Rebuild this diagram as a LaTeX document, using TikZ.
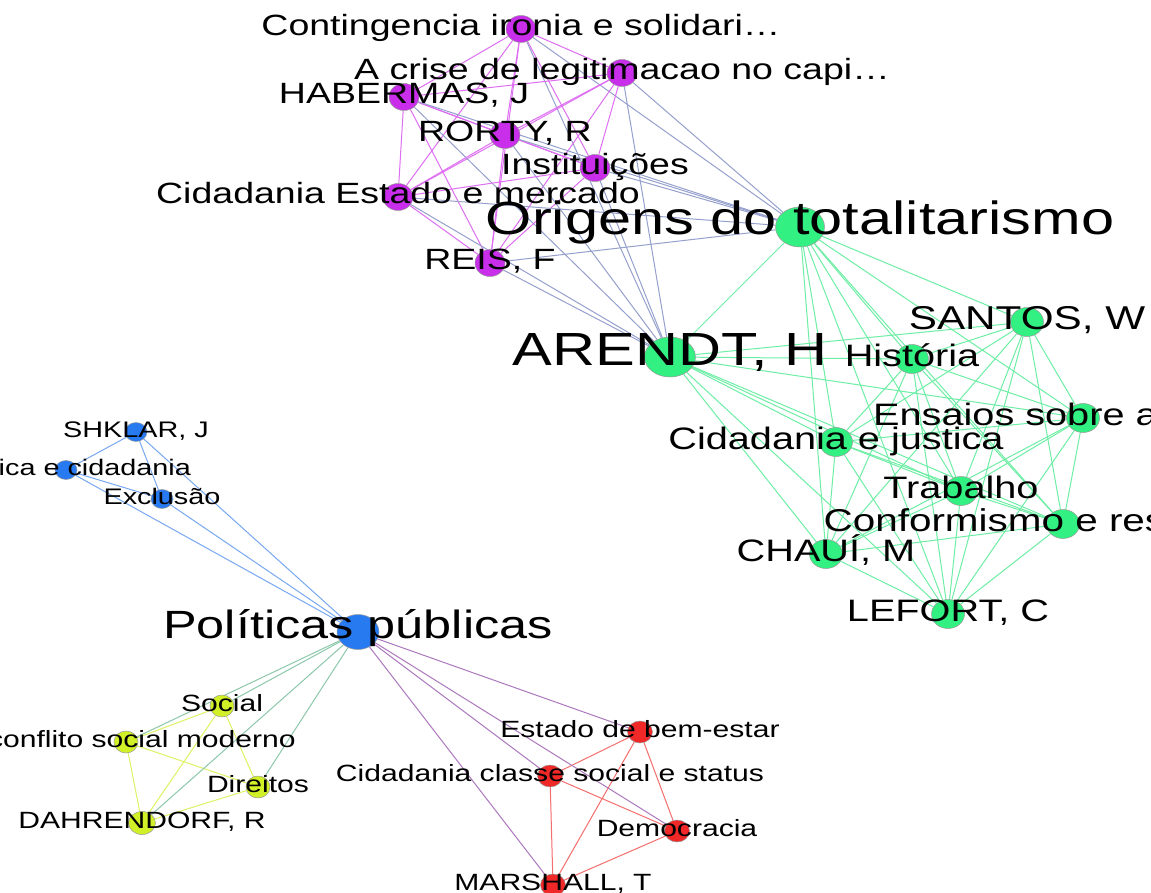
\documentclass[tikz,border=0pt]{standalone}
\usepackage{fontspec}
\setmainfont{Liberation Sans}[FakeStretch=1.28]
\usetikzlibrary{shapes.geometric}
\pgfdeclarelayer{edges}
\pgfdeclarelayer{labels}
\pgfsetlayers{edges,main,labels}
\definecolor{cP}{RGB}{201,46,235}
\definecolor{cG}{RGB}{50,240,130}
\definecolor{cB}{RGB}{40,122,240}
\definecolor{cY}{RGB}{210,240,40}
\definecolor{cR}{RGB}{240,40,40}
\definecolor{ePPc}{RGB}{222,110,242}
\definecolor{ePGc}{RGB}{150,160,205}
\definecolor{eGGc}{RGB}{110,238,165}
\definecolor{eBBc}{RGB}{120,168,242}
\definecolor{eBYc}{RGB}{140,200,170}
\definecolor{eBRc}{RGB}{172,120,190}
\definecolor{eYYc}{RGB}{222,242,100}
\definecolor{eRRc}{RGB}{245,110,110}
\begin{document}
\begin{tikzpicture}[x=1pt,y=-1pt,
  vn/.style={ellipse, inner sep=0pt, draw=black!40, line width=0.5pt},
  pn/.style={vn, fill=cP, minimum width=30pt, minimum height=27pt},
  gn/.style={vn, fill=cG, minimum width=33pt, minimum height=29pt},
  gbig/.style={vn, fill=cG, minimum width=49pt, minimum height=40pt},
  bn/.style={vn, fill=cB, minimum width=22pt, minimum height=19pt},
  bbig/.style={vn, fill=cB, minimum width=42pt, minimum height=35pt},
  yn/.style={vn, fill=cY, minimum width=24pt, minimum height=22pt},
  rn/.style={vn, fill=cR, minimum width=25pt, minimum height=22pt},
  lb/.style={inner sep=0pt, anchor=base, text=black},
  lXL/.style={lb, font=\fontsize{46.5}{50}\selectfont, yshift=-8pt},
  lL/.style={lb, font=\fontsize{39.4}{42}\selectfont, yshift=-6.5pt},
  lMP/.style={lb, font=\fontsize{29.3}{32}\selectfont, yshift=-6.5pt},
  lMG/.style={lb, font=\fontsize{31}{34}\selectfont, yshift=-7pt},
  lS/.style={lb, font=\fontsize{23.5}{26}\selectfont, yshift=-5pt},
  lXS/.style={lb, font=\fontsize{22.5}{24}\selectfont, yshift=-5pt},
  eb/.style={line width=1pt},
  ePP/.style={eb, draw=ePPc},
  ePG/.style={eb, draw=ePGc},
  eGG/.style={eb, draw=eGGc},
  eBB/.style={eb, draw=eBBc},
  eBY/.style={eb, draw=eBYc},
  eBR/.style={eb, draw=eBRc},
  eYY/.style={eb, draw=eYYc},
  eRR/.style={eb, draw=eRRc}]
\useasboundingbox (0,0) rectangle (1151,893);
\clip (0,0) rectangle (1151,893);

% ---- nodes ----
% purple
\node[pn] (con) at (521,29) {};
\node[pn] (acr) at (622,73) {};
\node[pn] (hab) at (404,97) {};
\node[pn] (ror) at (505,135) {};
\node[pn] (ins) at (595,168) {};
\node[pn] (cem) at (398,197) {};
\node[pn] (rei) at (490,263) {};
% green
\node[gbig] (ori) at (800,227) {};
\node[gbig, minimum width=51pt] (are) at (670,357) {};
\node[gn] (san) at (1027,322) {};
\node[gn] (his) at (912,359) {};
\node[gn] (ens) at (1083,418) {};
\node[gn] (cjs) at (836,442) {};
\node[gn] (tra) at (961,491) {};
\node[gn] (cnf) at (1063,524) {};
\node[gn] (cha) at (826,554) {};
\node[gn] (lef) at (948,614) {};
% blue
\node[bn] (shk) at (136,432) {};
\node[bn] (pec) at (66,470) {};
\node[bn] (exc) at (162,499) {};
\node[bbig] (pol) at (358,632) {};
% yellow
\node[yn] (soc) at (222,706) {};
\node[yn] (ocs) at (126,742) {};
\node[yn] (dir) at (258,787) {};
\node[yn, minimum width=27pt, minimum height=23pt] (dah) at (142,823) {};
% red
\node[rn] (ebe) at (640,732) {};
\node[rn] (ccs) at (550,776) {};
\node[rn] (dem) at (677,831) {};
\node[rn] (mar) at (553,885) {};

% ---- edges ----
\begin{pgfonlayer}{edges}
\fill[white] (0,0) rectangle (1151,893);
\foreach \a [count=\i] in {con,acr,hab,ror,ins,cem,rei}{
  \foreach \b [count=\j] in {con,acr,hab,ror,ins,cem,rei}{
    \ifnum\j>\i \draw[ePP] (\a) -- (\b); \fi
  }
  \draw[ePG] (\a) -- (ori);
  \draw[ePG] (\a) -- (are);
}
\foreach \a [count=\i] in {ori,are,san,his,ens,cjs,tra,cnf,cha,lef}{
  \foreach \b [count=\j] in {ori,are,san,his,ens,cjs,tra,cnf,cha,lef}{
    \ifnum\j>\i \draw[eGG] (\a) -- (\b); \fi
  }
}
\foreach \a [count=\i] in {shk,pec,exc,pol}{
  \foreach \b [count=\j] in {shk,pec,exc,pol}{
    \ifnum\j>\i \draw[eBB] (\a) -- (\b); \fi
  }
}
\foreach \a [count=\i] in {soc,ocs,dir,dah}{
  \foreach \b [count=\j] in {soc,ocs,dir,dah}{
    \ifnum\j>\i \draw[eYY] (\a) -- (\b); \fi
  }
  \draw[eBY] (\a) -- (pol);
}
\foreach \a [count=\i] in {ebe,ccs,dem,mar}{
  \foreach \b [count=\j] in {ebe,ccs,dem,mar}{
    \ifnum\j>\i \draw[eRR] (\a) -- (\b); \fi
  }
  \draw[eBR] (\a) -- (pol);
}
\end{pgfonlayer}

% ---- labels ----
\begin{pgfonlayer}{labels}
\clip (0,0) rectangle (1151,893);
\node[lMP] (con-l) at (con) {Contingencia ironia e solidari…};
\node[lMP] (acr-l) at (acr) {A crise de legitimacao no capi…};
\node[lMP] (hab-l) at (hab) {HABERMAS, J};
\node[lMP] (ror-l) at (ror) {RORTY, R};
\node[lMP] (ins-l) at (ins) {Instituições};
\node[lMP] (cem-l) at (cem) {Cidadania Estado e mercado};
\node[lMP] (rei-l) at (rei) {REIS, F};
\node[lXL] (ori-l) at (ori) {Origens do totalitarismo};
\node[lXL] (are-l) at (are) {ARENDT, H};
\node[lMG, font=\fontsize{33}{36}\selectfont] (san-l) at (san) {SANTOS, W};
\node[lMG] (his-l) at (his) {História};
\node[lMG, anchor=base west, xshift=-210pt] (ens-l) at (ens) {Ensaios sobre a};
\node[lMG] (cjs-l) at (cjs) {Cidadania e justica};
\node[lMG] (tra-l) at (tra) {Trabalho};
\node[lMG, font=\fontsize{31.6}{34}\selectfont] (cnf-l) at (cnf) {Conformismo e resistência};
\node[lMG] (cha-l) at (cha) {CHAUÍ, M};
\node[lMG] (lef-l) at (lef) {LEFORT, C};
\node[lXS] (shk-l) at (shk) {SHKLAR, J};
\node[lXS] (pec-l) at (pec) {Política e cidadania};
\node[lXS] (exc-l) at (exc) {Exclusão};
\node[lL] (pol-l) at (pol) {Políticas públicas};
\node[lS] (soc-l) at (soc) {Social};
\node[lS] (ocs-l) at (ocs) {O conflito social moderno};
\node[lS] (dir-l) at (dir) {Direitos};
\node[lS] (dah-l) at (dah) {DAHRENDORF, R};
\node[lS] (ebe-l) at (ebe) {Estado de bem-estar};
\node[lS] (ccs-l) at (ccs) {Cidadania classe social e status};
\node[lS] (dem-l) at (dem) {Democracia};
\node[lS] (mar-l) at (mar) {MARSHALL, T};
\end{pgfonlayer}
\end{tikzpicture}
\end{document}
